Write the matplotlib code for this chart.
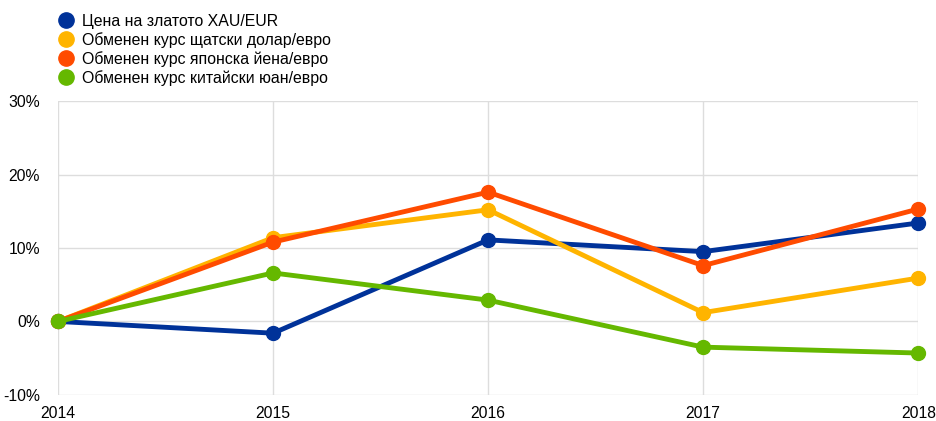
import matplotlib
matplotlib.use("Agg")
import matplotlib.pyplot as plt
from matplotlib.lines import Line2D
from matplotlib.ticker import FuncFormatter

plt.rcParams['font.family'] = ['Liberation Sans', 'DejaVu Sans']

years = [2014, 2015, 2016, 2017, 2018]
series_names = [
    "Цена на златото XAU/EUR",
    "Обменен курс щатски долар/евро",
    "Обменен курс японска йена/евро",
    "Обменен курс китайски юан/евро",
]
gold = [0.0, -1.6, 11.1, 9.5, 13.4]
usd = [0.0, 11.4, 15.2, 1.2, 5.9]
jpy = [0.0, 10.8, 17.6, 7.6, 15.3]
cny = [0.0, 6.6, 2.9, -3.5, -4.3]
colors = ["#003299", "#FFB400", "#FF4B00", "#65B800"]

fig = plt.figure(figsize=(9.36, 4.21), dpi=100)
ax = fig.add_axes([0.062, 0.062, 0.919, 0.698])

for vals, c in zip([gold, usd, jpy, cny], colors):
    ax.plot(years, vals, color=c, lw=3.5, marker='o', ms=10,
            solid_capstyle='round', clip_on=False)

ax.set_xlim(2014, 2018)
ax.set_ylim(-10, 30)
ax.set_yticks([-10, 0, 10, 20, 30])
ax.set_xticks(years)
ax.yaxis.set_major_formatter(FuncFormatter(lambda v, p: f"{int(v)}%"))
ax.grid(True, color="#dddddd", lw=1)
ax.set_axisbelow(True)
for s in ax.spines.values():
    s.set_visible(False)
ax.tick_params(length=0, labelsize=11.3, colors="#000000")
ax.tick_params(axis='y', pad=13)
ax.tick_params(axis='x', pad=8)

handles = [Line2D([], [], color=c, marker='o', ls='none', ms=11) for c in colors]
fig.legend(handles, series_names, loc='upper left', bbox_to_anchor=(0.05, 0.99),
           frameon=False, fontsize=11.4, handletextpad=0.45, labelspacing=0.2,
           handlelength=1.2, borderaxespad=0.2)

fig.savefig("out.png", dpi=100)
